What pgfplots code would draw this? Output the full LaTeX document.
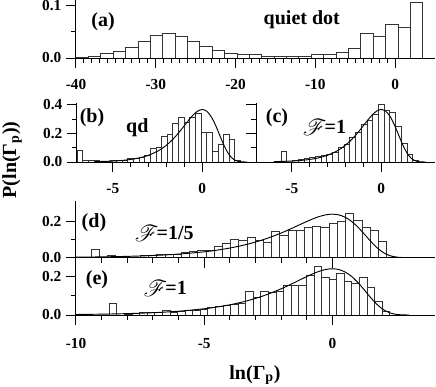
\documentclass[border=0pt]{standalone}
\usepackage{fontspec}
\setmainfont{Liberation Serif}
\usepackage{mathrsfs}
\usepackage{pgfplots}
\pgfplotsset{compat=1.18}

% one panel of the stacked histograms
\pgfplotsset{
  panel/.style={
    scale only axis,
    axis lines*=left,
    axis on top,
    axis line style={line width=0.75pt},
    tick align=outside,
    major tick length=7.5pt,
    minor tick length=3.75pt,
    every tick/.style={black, line width=0.75pt},
    tick label style={font=\fontsize{11.5}{12}\selectfont\bfseries},
    xticklabel style={yshift=-5pt},
    ymin=0,
    minor y tick num=1,
    minor x tick num=4,
  },
  hist/.style={ybar interval, draw=black!80, fill=white, line width=0.6pt},
  fit/.style={black, line width=0.7pt, smooth, no marks},
}
\tikzset{lab/.style={font=\fontsize{15}{16}\selectfont\bfseries}}
\newcommand{\scF}{\raisebox{-1.5pt}{\fontsize{17.5}{18}\selectfont$\mathscr{F}$}\kern-1.5pt}

\begin{document}
\begin{tikzpicture}
\useasboundingbox (0,0) rectangle (327pt,-289.5pt);

% (a) quiet dot
\begin{axis}[panel, at={(57pt,-43.5pt)}, anchor=south west,
  width=269.25pt, height=43.5pt,
  xmin=-40, xmax=5, ymax=0.1115,
  xtick={-40,-30,-20,-10,0}, xticklabels={-40,-30,-20,-10,0},
  minor x tick num=9,
  ytick={0,0.1}, yticklabels={0.0,0.1}]
\addplot[hist] coordinates {
 (-40.000,0.0020) (-38.448,0.0030) (-36.896,0.0096) (-35.344,0.0130)
 (-33.792,0.0210) (-32.240,0.0320) (-30.688,0.0430) (-29.136,0.0480)
 (-27.584,0.0420) (-26.032,0.0320) (-24.480,0.0230) (-22.928,0.0150)
 (-21.376,0.0096) (-19.824,0.0060) (-18.272,0.0060) (-16.720,0.0040)
 (-15.168,0.0040) (-13.616,0.0030) (-12.064,0.0025) (-10.512,0.0060)
 (-8.960,0.0076) (-7.408,0.0115) (-5.856,0.0180) (-4.304,0.0480)
 (-2.752,0.0420) (-1.200,0.0650) (0.352,0.0590) (1.904,0.1060)
 (3.456,0)};
\node[lab] at (axis cs:-36.6,0.069) {(a)};
\node[lab] at (axis cs:-11.7,0.073) {quiet dot};
\end{axis}

% (b) qd
\begin{axis}[panel, at={(57.75pt,-121.5pt)}, anchor=south west,
  width=134.25pt, height=43.9pt,
  xmin=-7, xmax=3, ymax=0.41,
  xtick={-5,0}, xticklabels={-5,0},
  ytick={0,0.2,0.4}, yticklabels={0.0,0.2,0.4}]
\addplot[hist] coordinates {
 (-7.000,0.079) (-6.685,0.012) (-6.370,0.012) (-6.055,0.012) (-5.740,0.006)
 (-5.425,0.006) (-5.110,0.012) (-4.795,0.012) (-4.480,0.010) (-4.165,0.022)
 (-3.850,0.025) (-3.535,0.030) (-3.220,0.045) (-2.905,0.095) (-2.590,0.100)
 (-2.275,0.180) (-1.960,0.190) (-1.645,0.270) (-1.330,0.310) (-1.015,0.280)
 (-0.700,0.310) (-0.385,0.340) (-0.070,0.210) (0.245,0.210) (0.560,0.075)
 (0.875,0.120) (1.190,0.190) (1.505,0.160) (1.820,0.014) (2.135,0)};
\addplot[fit] coordinates {
 (-6,0.00247) (-5,0.00669) (-4.5,0.01099) (-4,0.01798) (-3.5,0.02930)
 (-3,0.04738) (-2.5,0.07562) (-2.25,0.09487) (-2,0.11820) (-1.75,0.14605)
 (-1.5,0.17850) (-1.25,0.21513) (-1,0.25465) (-0.75,0.29452) (-0.5,0.33070)
 (-0.25,0.35745) (0,0.36788) (0.25,0.35557) (0.5,0.31704) (0.75,0.25489)
 (1,0.17937) (1.25,0.10643) (1.5,0.05070) (1.75,0.01823) (2,0.00457)
 (2.25,0.00072) (2.5,0.00006)};
\node[lab] at (axis cs:-6.16,0.31) {(b)};
\node[lab] at (axis cs:-3.63,0.24) {qd};
\end{axis}

% (c) F=1
\begin{axis}[panel, at={(192pt,-121.5pt)}, anchor=south west,
  width=134.25pt, height=43.9pt,
  xmin=-7, xmax=3, ymax=0.41,
  xtick={-5,0}, xticklabels={-5,0},
  ytick={0,0.2,0.4}, yticklabels={}]
\addplot[hist] coordinates {
 (-5.60,0.077) (-5.28,0.000) (-4.96,0.010) (-4.64,0.020) (-4.32,0.025)
 (-4.00,0.030) (-3.68,0.042) (-3.36,0.044) (-3.04,0.050) (-2.72,0.070)
 (-2.40,0.100) (-2.08,0.120) (-1.76,0.170) (-1.44,0.210) (-1.12,0.260)
 (-0.80,0.290) (-0.48,0.330) (-0.16,0.400) (0.16,0.360) (0.48,0.350)
 (0.80,0.250) (1.12,0.130) (1.44,0.050) (1.76,0.012) (2.08,0)};
\addplot[fit] coordinates {
 (-6,0.00247) (-5,0.00669) (-4.5,0.01099) (-4,0.01798) (-3.5,0.02930)
 (-3,0.04738) (-2.5,0.07562) (-2.25,0.09487) (-2,0.11820) (-1.75,0.14605)
 (-1.5,0.17850) (-1.25,0.21513) (-1,0.25465) (-0.75,0.29452) (-0.5,0.33070)
 (-0.25,0.35745) (0,0.36788) (0.25,0.35557) (0.5,0.31704) (0.75,0.25489)
 (1,0.17937) (1.25,0.10643) (1.5,0.05070) (1.75,0.01823) (2,0.00457)
 (2.25,0.00072) (2.5,0.00006)};
\node[lab] at (axis cs:-5.83,0.31) {(c)};
\node[lab] at (axis cs:-3.17,0.245) {\scF=1};
\end{axis}

% (d) F=1/5
\begin{axis}[panel, at={(57pt,-193.25pt)}, anchor=south west,
  width=269.25pt, height=42.75pt,
  xmin=-10, xmax=4, ymax=0.317,
  xtick={-10,-5,0}, xticklabels={},
  ytick={0,0.2}, yticklabels={0.0,0.2}]
\addplot[hist] coordinates {
 (-9.41,0.048) (-9.09,0.003) (-8.77,0.010) (-8.45,0.008) (-8.13,0.003)
 (-7.81,0.004) (-7.49,0.010) (-7.17,0.013) (-6.85,0.020) (-6.53,0.020)
 (-6.21,0.016) (-5.89,0.028) (-5.57,0.035) (-5.25,0.039) (-4.93,0.043)
 (-4.61,0.061) (-4.29,0.080) (-3.97,0.100) (-3.65,0.098) (-3.33,0.113)
 (-3.01,0.098) (-2.69,0.087) (-2.37,0.144) (-2.05,0.122) (-1.73,0.150)
 (-1.41,0.150) (-1.09,0.169) (-0.77,0.176) (-0.45,0.169) (-0.13,0.192)
 (0.19,0.204) (0.51,0.246) (0.83,0.209) (1.15,0.169) (1.47,0.154)
 (1.79,0.093) (2.11,0)};
\addplot[fit] coordinates {
 (-10,0.00269) (-9,0.00443) (-8,0.00731) (-7,0.01204) (-6,0.01984)
 (-5,0.03264) (-4.5,0.04181) (-4,0.05350) (-3.5,0.06829) (-3,0.08683)
 (-2.5,0.10969) (-2,0.13712) (-1.75,0.15246) (-1.5,0.16855) (-1.25,0.18504)
 (-1,0.20132) (-0.75,0.21651) (-0.5,0.22942) (-0.25,0.23851) (0,0.24197)
 (0.25,0.23789) (0.5,0.22463) (0.75,0.20141) (1,0.16896) (1.25,0.13014)
 (1.5,0.08984) (1.75,0.05387) (2,0.02696) (2.25,0.01070) (2.5,0.00315)
 (2.75,0.00063) (3,0.00008)};
\node[lab] at (axis cs:-9.3,0.193) {(d)};
\node[lab] at (axis cs:-6.56,0.137) {\scF=1/5};
\end{axis}

% (e) F=1
\begin{axis}[panel, at={(57pt,-236.25pt)}, anchor=south west,
  width=269.25pt, height=43pt,
  xmin=-10, xmax=4, ymax=0.30,
  xtick={-10,-5,0}, xticklabels={-10,-5,0},
  xticklabel style={yshift=-1.5pt},
  ytick={0,0.2}, yticklabels={0.0,0.2}]
\addplot[hist] coordinates {
 (-8.703,0.061) (-8.408,0.000) (-8.112,0.003) (-7.816,0.009) (-7.521,0.012)
 (-7.225,0.016) (-6.930,0.014) (-6.634,0.023) (-6.338,0.016) (-6.043,0.017)
 (-5.747,0.023) (-5.452,0.026) (-5.156,0.031) (-4.860,0.038) (-4.565,0.044)
 (-4.269,0.052) (-3.974,0.056) (-3.678,0.061) (-3.382,0.122) (-3.087,0.090)
 (-2.791,0.122) (-2.496,0.118) (-2.200,0.125) (-1.904,0.157) (-1.609,0.157)
 (-1.313,0.157) (-1.018,0.209) (-0.722,0.252) (-0.426,0.195) (-0.131,0.188)
 (0.165,0.218) (0.461,0.174) (0.756,0.165) (1.052,0.195) (1.347,0.144)
 (1.643,0.073) (1.938,0.021) (2.234,0)};
\addplot[fit] coordinates {
 (-10,0.00269) (-9,0.00443) (-8,0.00731) (-7,0.01204) (-6,0.01984)
 (-5,0.03264) (-4.5,0.04181) (-4,0.05350) (-3.5,0.06829) (-3,0.08683)
 (-2.5,0.10969) (-2,0.13712) (-1.75,0.15246) (-1.5,0.16855) (-1.25,0.18504)
 (-1,0.20132) (-0.75,0.21651) (-0.5,0.22942) (-0.25,0.23851) (0,0.24197)
 (0.25,0.23789) (0.5,0.22463) (0.75,0.20141) (1,0.16896) (1.25,0.13014)
 (1.5,0.08984) (1.75,0.05387) (2,0.02696) (2.25,0.01070) (2.5,0.00315)
 (2.75,0.00063) (3,0.00008)};
\node[lab] at (axis cs:-9.18,0.183) {(e)};
\node[lab] at (axis cs:-6.52,0.141) {\scF=1};
\end{axis}

\node[lab, rotate=90] at (9pt,-120pt) {P(ln(Γ\textsubscript{p}))};
\node[lab] at (191.25pt,-281.25pt) {ln(Γ\textsubscript{p})};
\end{tikzpicture}
\end{document}
